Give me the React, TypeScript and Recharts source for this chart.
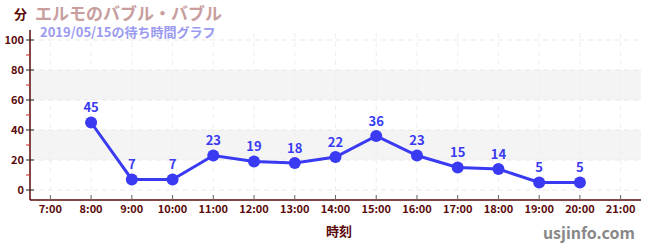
import React from 'react';
import { LineChart, Line, XAxis, YAxis, ReferenceLine, ReferenceArea, LabelList } from 'recharts';

const hours = [8, 9, 10, 11, 12, 13, 14, 15, 16, 17, 18, 19, 20];
const waits = [45, 7, 7, 23, 19, 18, 22, 36, 23, 15, 14, 5, 5];
const xTicks = [7, 8, 9, 10, 11, 12, 13, 14, 15, 16, 17, 18, 19, 20, 21];
const yTicks = [0, 10, 20, 30, 40, 50, 60, 70, 80, 90, 100];
const gridValues = [0, 20, 40, 60, 80, 100];
const bands = [[20, 40], [60, 80]];

const data = hours.map((h, i) => ({ hour: h, wait: waits[i] }));

const AXIS = '#5a0a0a';
const BLUE = '#3a3af2';
const FONT = '"Noto Sans CJK JP", "Noto Sans", sans-serif';

// 大目盛りは軸をまたぐ、小目盛り(10の奇数倍)は赤で左側だけ
const YTick = (props: any) => {
  const { x, y, payload } = props;
  const v = payload.value;
  const major = v % 20 === 0;
  return (
    <g>
      {major ? (
        <>
          <line x1={x + 2} x2={x + 10} y1={y} y2={y} stroke="#222" strokeWidth={1} />
          <text x={x} y={y} dy="0.35em" textAnchor="end" fill={AXIS} fontSize={11} fontWeight={700} fontFamily={FONT}>
            {v}
          </text>
        </>
      ) : (
        <line x1={x + 2} x2={x + 6} y1={y} y2={y} stroke="#d02020" strokeWidth={1} />
      )}
    </g>
  );
};

const XTick = (props: any) => {
  const { x, y, payload } = props;
  return (
    <g>
      <line x1={x} x2={x} y1={y - 9} y2={y - 4} stroke="#666" strokeWidth={1} />
      <text x={x} y={y} dy="0.85em" textAnchor="middle" fill={AXIS} fontSize={11} fontWeight={700} fontFamily={FONT}>
        {`${payload.value}:00`}
      </text>
    </g>
  );
};

export default function App() {
  return (
    <div style={{ position: 'absolute', left: 0, top: 0, width: 650, height: 250, background: '#fff', fontFamily: FONT }}>
      <LineChart width={650} height={250} data={data} margin={{ top: 30, right: 9, bottom: 30, left: 0 }}>
        {bands.map(([a, b], i) => (
          <ReferenceArea key={i} y1={a} y2={b} fill="#f4f4f4" fillOpacity={1} stroke="none" ifOverflow="hidden" />
        ))}
        {gridValues.map((v) => (
          <ReferenceLine key={'h' + v} y={v} stroke="#e9e9e9" strokeDasharray="5 4" />
        ))}
        {xTicks.map((v) => (
          <ReferenceLine key={'v' + v} x={v} stroke="#eeeeee" strokeDasharray="5 4" />
        ))}
        <XAxis
          dataKey="hour"
          type="number"
          domain={[6.5, 21.5]}
          ticks={xTicks}
          interval={0}
          height={20}
          stroke={AXIS}
          strokeWidth={1.5}
          tickLine={false}
          tickSize={0}
          tickMargin={4}
          tick={<XTick />}
        />
        <YAxis
          type="number"
          domain={[-6.67, 106.67]}
          ticks={yTicks}
          interval={0}
          width={30}
          stroke={AXIS}
          strokeWidth={1.5}
          tickLine={false}
          tickSize={4}
          tickMargin={2}
          tick={<YTick />}
          allowDataOverflow
        />
        <Line
          dataKey="wait"
          type="linear"
          stroke={BLUE}
          strokeWidth={3}
          dot={{ r: 6, fill: BLUE, stroke: BLUE, strokeWidth: 0 }}
          isAnimationActive={false}
        >
          <LabelList dataKey="wait" position="top" offset={10} fill={BLUE} fontSize={13} fontWeight={700} fontFamily={FONT} />
        </Line>
      </LineChart>
      <div style={{ position: 'absolute', left: 14, top: 7, fontSize: 13, fontWeight: 700, color: AXIS, lineHeight: 1 }}>分</div>
      <div style={{ position: 'absolute', left: 35, top: 4, fontSize: 17, fontWeight: 700, color: '#c89e9e', lineHeight: 1 }}>
        エルモのバブル・バブル
      </div>
      <div style={{ position: 'absolute', left: 40, top: 25, fontSize: 13, fontWeight: 700, color: '#9a9af0', lineHeight: 1 }}>
        2019/05/15の待ち時間グラフ
      </div>
      <div style={{ position: 'absolute', left: 326, top: 224, fontSize: 13, fontWeight: 700, color: AXIS, lineHeight: 1 }}>時刻</div>
      <div style={{ position: 'absolute', right: 15, top: 224, fontSize: 16, fontWeight: 700, color: '#888', lineHeight: 1 }}>
        usjinfo.com
      </div>
    </div>
  );
}
